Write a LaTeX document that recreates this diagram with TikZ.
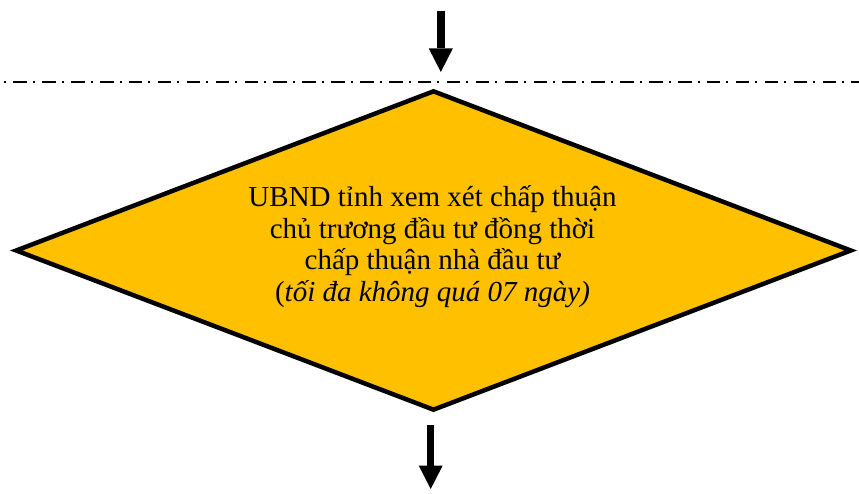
\documentclass[tikz,border=0pt]{standalone}
\usepackage{fontspec}
\setmainfont{Liberation Serif}
\usetikzlibrary{shapes.geometric,arrows.meta}
\definecolor{gold}{HTML}{FFC000}
\tikzset{
 dec/.style={diamond, draw=black, line width=4.5pt, fill=gold, inner sep=0pt, minimum width=836.4pt, minimum height=320.2pt},
 flowarrow/.style={line width=7.5pt, -{Triangle[width=24pt,length=23.5pt,line width=0pt]}},
 lane/.style={line width=1.5pt, dash pattern=on 13.5pt off 6pt on 2pt off 7.4pt, dash phase=15.6pt},
 txt/.style={font=\fontsize{29}{31.5}\selectfont, anchor=base, inner sep=0pt}
}
\begin{document}
\begin{tikzpicture}[x=1pt,y=-1pt]
\useasboundingbox (0,0) rectangle (859,494);
\coordinate (la) at (0,82);
\coordinate (lb) at (859,82);
\draw[lane] (la) -- (lb);
\coordinate (ta) at (440.8,11);
\coordinate (tb) at (440.8,72);
\draw[flowarrow] (ta) -- (tb);
\node[dec] (d) at (433.5,250.5) {};
\node[txt] (l1) at (432.5,206.7) {UBND tỉnh xem xét chấp thuận};
\node[txt] (l2) at (432.5,238.5) {chủ trương đầu tư đồng thời};
\node[txt] (l3) at (432.5,270) {chấp thuận nhà đầu tư};
\node[txt] (l4) at (432.5,301.5) {(\textit{tối đa không quá 07 ngày)}};
\coordinate (bb) at (430.7,489);
\draw[flowarrow] ([xshift=-2.8pt,yshift=-12.15pt]d.south) -- (bb);
\end{tikzpicture}
\end{document}
